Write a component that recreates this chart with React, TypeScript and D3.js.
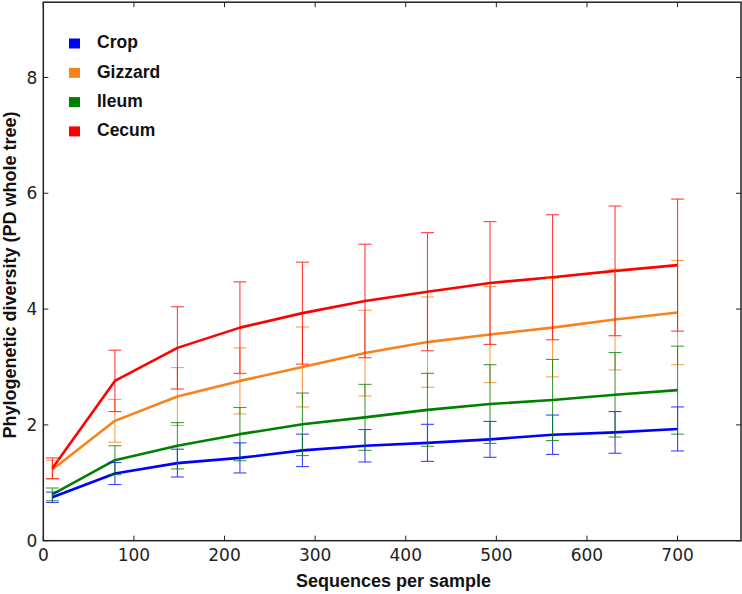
import React from "react";
import * as d3 from "d3";

const xs = [10, 79, 148, 217, 286, 355, 424, 493, 562, 631, 700];
const seriesNames = ["Crop", "Gizzard", "Ileum", "Cecum"];
const seriesColors = ["#0000ff", "#f7821e", "#008000", "#ff0000"];
const cropMean = [0.75, 1.16, 1.34, 1.43, 1.56, 1.64, 1.69, 1.75, 1.83, 1.87, 1.93];
const cropErr = [0.09, 0.19, 0.24, 0.26, 0.28, 0.28, 0.32, 0.31, 0.34, 0.36, 0.38];
const gizzardMean = [1.23, 2.07, 2.49, 2.76, 3.0, 3.24, 3.43, 3.56, 3.68, 3.82, 3.94];
const gizzardErr = [0.16, 0.37, 0.5, 0.57, 0.69, 0.74, 0.78, 0.83, 0.85, 0.87, 0.9];
const ileumMean = [0.8, 1.39, 1.64, 1.84, 2.01, 2.13, 2.26, 2.36, 2.43, 2.52, 2.6];
const ileumErr = [0.11, 0.25, 0.4, 0.46, 0.54, 0.57, 0.63, 0.68, 0.7, 0.73, 0.76];
const cecumMean = [1.25, 2.76, 3.33, 3.68, 3.93, 4.14, 4.3, 4.45, 4.55, 4.66, 4.76];
const cecumErr = [0.18, 0.53, 0.71, 0.79, 0.88, 0.98, 1.02, 1.06, 1.08, 1.12, 1.14];
const xTicks = [0, 100, 200, 300, 400, 500, 600, 700];
const yTicks = [0, 2, 4, 6, 8];

export default function App() {
  const W = 742, H = 594;
  const x = d3.scaleLinear().domain([0, 770]).range([43.3, 741]);
  const y = d3.scaleLinear().domain([0, 9.3]).range([540.7, 2.2]);
  const means = [cropMean, gizzardMean, ileumMean, cecumMean];
  const errs = [cropErr, gizzardErr, ileumErr, cecumErr];
  const line = d3.line<[number, number]>().x(d => x(d[0])).y(d => y(d[1]));
  const font = "'DejaVu Sans', 'Liberation Sans', Arial, sans-serif";
  const boldFont = "'Liberation Sans', Arial, sans-serif";
  const [x0, x1] = x.range();
  const [y0, y1] = y.range();
  const tl = 5;
  return (
    <svg width={W} height={H} style={{ position: "absolute", left: 0, top: 0, background: "#fff" }}>
      <rect x={0} y={0} width={W} height={H} fill="#fff" />
      {means.map((m, si) => (
        <g key={"s" + si}>
          <path d={line(xs.map((xv, i) => [xv, m[i]]) as [number, number][]) || ""} fill="none" stroke={seriesColors[si]} strokeWidth={2.6} strokeLinejoin="round" />
        </g>
      ))}
      {means.map((m, si) => (
        <g key={"e" + si} stroke={seriesColors[si]} strokeWidth={1.1} opacity={0.75}>
          {xs.map((xv, i) => {
            const cx = x(xv);
            const top = y(m[i] + errs[si][i]);
            const bot = y(m[i] - errs[si][i]);
            return (
              <g key={i}>
                <line x1={cx} x2={cx} y1={top} y2={bot} />
                <line x1={cx - 6.5} x2={cx + 6.5} y1={top} y2={top} />
                <line x1={cx - 6.5} x2={cx + 6.5} y1={bot} y2={bot} />
              </g>
            );
          })}
        </g>
      ))}
      <rect x={x0} y={y1} width={x1 - x0} height={y0 - y1} fill="none" stroke="#222" strokeWidth={1.5} />
      {xTicks.map(t => (
        <g key={"xt" + t}>
          <line x1={x(t)} x2={x(t)} y1={y0} y2={y0 - tl} stroke="#222" />
          <line x1={x(t)} x2={x(t)} y1={y1} y2={y1 + tl} stroke="#222" />
          <text x={x(t)} y={560.5} textAnchor="middle" fontFamily={font} fontSize={17} fill="#222">{t}</text>
        </g>
      ))}
      {yTicks.map(t => (
        <g key={"yt" + t}>
          <line x1={x0} x2={x0 + tl} y1={y(t)} y2={y(t)} stroke="#222" />
          <line x1={x1} x2={x1 - tl} y1={y(t)} y2={y(t)} stroke="#222" />
          <text x={x0 - 6} y={y(t) + 6.2} textAnchor="end" fontFamily={font} fontSize={17} fill="#222">{t}</text>
        </g>
      ))}
      <text x={393.5} y={587} textAnchor="middle" fontFamily={boldFont} fontWeight="bold" fontSize={18} fill="#111">Sequences per sample</text>
      <text transform={`translate(15.5, 275) rotate(-90)`} textAnchor="middle" fontFamily={boldFont} fontWeight="bold" fontSize={18} fill="#111">Phylogenetic diversity (PD whole tree)</text>
      {seriesNames.map((n, i) => (
        <g key={"l" + i}>
          <rect x={69} y={38.5 + i * 29.3} width={11} height={10} fill={seriesColors[i]} />
          <text x={97} y={48.3 + i * 29.3} fontFamily={boldFont} fontWeight="bold" fontSize={17.5} fill="#111">{n}</text>
        </g>
      ))}
    </svg>
  );
}
